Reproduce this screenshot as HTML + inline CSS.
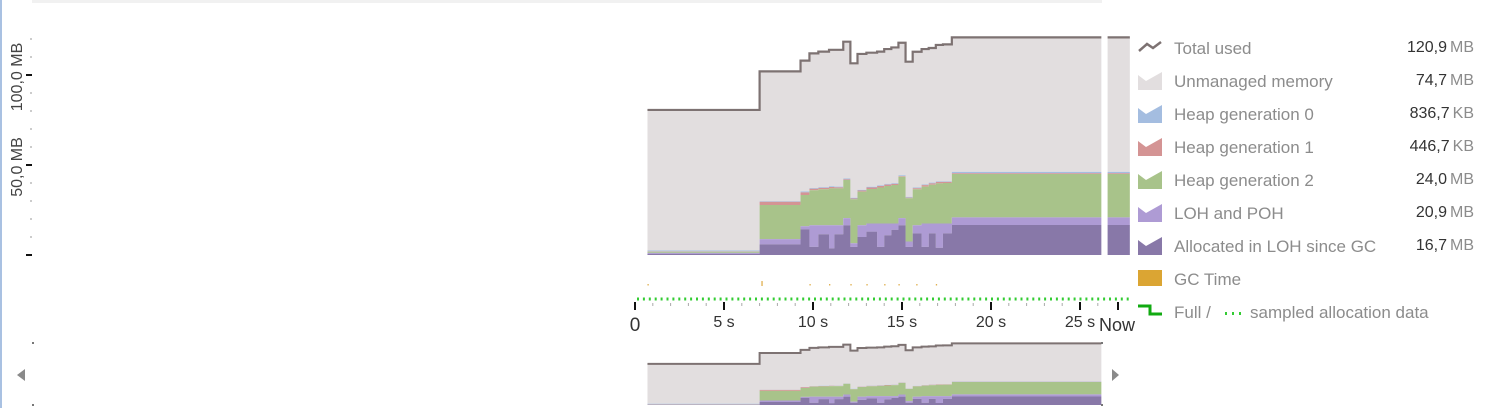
<!DOCTYPE html>
<html><head><meta charset="utf-8"><style>
body{margin:0;width:1495px;height:408px;overflow:hidden;background:#fff;font-family:"Liberation Sans",sans-serif;}
svg{position:absolute;left:0;top:0}
</style></head><body>
<svg id="chart" width="1495" height="408" xmlns="http://www.w3.org/2000/svg">
<rect x="0" y="0" width="2" height="408" fill="#a9c1e2"/>
<rect x="32" y="0" width="1070" height="3" fill="#f1f1f1"/>
<g id="yaxis"></g>
<g id="main"></g>
<g id="gc"></g>
<g id="xaxis"></g>
<g id="overview"></g>
<polygon points="17,375 25,369 25,381" fill="#8a8a8a"/>
<polygon points="1119,375 1112,369 1112,381" fill="#8a8a8a"/>
<rect x="32" y="342" width="2" height="2" fill="#777"/>
<rect x="32" y="404" width="2" height="2" fill="#777"/>
<rect x="1101" y="342" width="2" height="2" fill="#777"/>
<rect x="1101" y="404" width="2" height="2" fill="#777"/>
<g id="legend"></g>
</svg>
<script>
const times=[0.7,7.0,9.3,9.8,10.3,10.9,11.2,11.7,12.1,12.5,13.0,13.6,14.0,14.4,14.8,15.2,15.6,16.1,16.5,16.9,17.3,17.8];
const totalUsed=[80.6,102,108,112,113,114,114,118.5,106.5,111.7,112.4,113,114.4,115.3,117.9,107.4,112.9,114.4,115,116.7,117,120.9];
const lohSinceGcTop=[0.6,5.9,14.3,4.5,11.5,3.7,11.5,16.5,4.5,10,13,4.5,11,14,16.5,4.5,12,4.5,12,4,12,16.7];
const lohPohTop=[1.2,8.8,16,16.5,16.5,16.5,16.5,20.5,6.5,16.5,17.5,17.5,17.5,17.5,20.5,7.5,16.5,17.5,17.5,17.5,17.5,20.9];
const gen2Top=[1.8,27.8,33.3,36,36.5,37,37,41.7,31,35.2,36.7,37.5,38.3,38.9,43.5,31.5,36.5,38,39,39.8,40,45];
const gen1=[0.2,1.8,1.5,0.8,0.8,0.8,0.6,0.3,0.4,0.6,0.8,0.8,0.8,0.6,0.3,0.4,0.6,0.8,0.8,0.8,0.6,0.4];
const gen0=[0.5,0.3,0.5,0.4,0.4,0.4,0.4,0.5,0.4,0.4,0.4,0.4,0.4,0.4,0.5,0.4,0.4,0.4,0.4,0.4,0.4,0.8];
const gcTimes=[0.7,7.1,9.8,10.9,12.1,13.0,14.0,14.8,15.8,16.9];
const xTickLabels=["0","5 s","10 s","15 s","20 s","25 s"];
const legendNames=["Total used","Unmanaged memory","Heap generation 0","Heap generation 1","Heap generation 2","LOH and POH","Allocated in LOH since GC","GC Time","Full / "];
const legendValues=["120,9","74,7","836,7","446,7","24,0","20,9","16,7","",""];
const legendUnits=["MB","MB","KB","KB","MB","MB","MB","",""];

const NS="http://www.w3.org/2000/svg";
function el(tag,attrs,parent){const e=document.createElementNS(NS,tag);for(const k in attrs)e.setAttribute(k,attrs[k]);parent.appendChild(e);return e;}
const tEnd=27.8, gapA=26.2, gapB=26.55;
const xs=t=>635+t*17.8;
const yMain=v=>255-v*1.8;
const yOv=v=>405-v*0.51;

function stackPath(top,bot,ys,x0,x1){
  let up=[],dn=[];
  for(let i=0;i<times.length;i++){
    const a=Math.max(x0,xs(times[i])), b=i<times.length-1?xs(times[i+1]):x1;
    up.push(a+","+ys(top(i)),b+","+ys(top(i)));
    dn.unshift(b+","+ys(bot(i)),a+","+ys(bot(i)));
  }
  return "M"+up.join(" L")+" L"+dn.join(" L")+" Z";
}
function linePath(ys,x1){
  let p=[];
  for(let i=0;i<times.length;i++){
    const a=xs(times[i]), b=i<times.length-1?xs(times[i+1]):x1;
    p.push(a+","+ys(totalUsed[i]),b+","+ys(totalUsed[i]));
  }
  return "M"+p.join(" L");
}
const g1=i=>gen2Top[i]+gen1[i], g0=i=>gen2Top[i]+gen1[i]+gen0[i];
const layers=[
 ["unmanaged-area","#e2dedf",i=>totalUsed[i],g0],
 ["heap-gen0-area","#a4bde0",g0,g1],
 ["heap-gen1-area","#d49494",g1,i=>gen2Top[i]],
 ["heap-gen2-area","#a8c38a",i=>gen2Top[i],i=>lohPohTop[i]],
 ["loh-poh-area","#ae9bd4",i=>lohPohTop[i],i=>lohSinceGcTop[i]],
 ["loh-since-gc-area","#8878a8",i=>lohSinceGcTop[i],i=>0]
];
function drawPlot(g,ys,x1,gap){
  for(const L of layers){
    const p=el("path",{d:stackPath(L[2],L[3],ys,0,x1),fill:L[1]},g);
    
    
  }
  const ln=el("path",{d:linePath(ys,x1),fill:"none",stroke:"#7d7272","stroke-width":gap?2.2:2},g);
  
  
  if(gap){
    const r=el("rect",{x:xs(gapA),y:30,width:xs(gapB)-xs(gapA),height:230,fill:"#fff"},g);
    
    
  }
}
drawPlot(document.getElementById("main"),yMain,xs(tEnd),true);
drawPlot(document.getElementById("overview"),yOv,xs(gapA),false);

const ya=document.getElementById("yaxis");
for(let v=0;v<=120;v+=10){
  const major=v%50===0;
  const r=el("rect",{x:major?26:30,y:yMain(v)-(major?1:0.5),width:major?6:2,height:major?2:1,fill:major?"#111":"#999"},ya);
  
  
}
[[50,"50,0 MB"],[100,"100,0 MB"]].forEach(([v,s])=>{
  const t=el("text",{x:0,y:0,transform:`translate(22,${yMain(v)+2}) rotate(-90)`,"text-anchor":"middle","font-size":16,fill:"#444"},ya);
  t.textContent=s;
  
  
});

const gc=document.getElementById("gc");
gcTimes.forEach((t,i)=>{
  const r=el("rect",{x:xs(t),y:i===1?281:284,width:1.3,height:i===1?5:1.5,fill:"#e0b050"},gc);
  
  
});
for(let x=637;x<1128;x+=5.9){
  const d=el("rect",{x:x,y:297.5,width:2,height:3,fill:"#33cc33"},gc);
  
  
}

const xa=document.getElementById("xaxis");
for(let s=0;s<=26;s++){
  const major=s%5===0;
  const r=el("rect",{x:xs(s)-(major?1:0.5),y:major?302:303,width:major?2:1,height:major?8:3,fill:major?"#111":"#aaa"},xa);
  
  
}
xTickLabels.forEach((s,i)=>{
  const t=el("text",{x:xs(i*5),y:i===0?331:327,"text-anchor":"middle","font-size":i===0?19:16,fill:"#333"},xa);
  t.textContent=s;
  
  
});
const nowTick=el("rect",{x:1117,y:302,width:2,height:8,fill:"#111"},xa);


const now=el("text",{x:1117,y:331,"text-anchor":"middle","font-size":18,fill:"#333"},xa);
now.textContent="Now";



const lg=document.getElementById("legend");
const icoColors=["#7d7272","#e2dedf","#a4bde0","#d49494","#a8c38a","#ae9bd4","#8878a8","#dba533","#11aa11"];
legendNames.forEach((n,i)=>{
  const cy=48+i*33;
  const g=el("g",{},lg);
  
  
  if(i===0){el("path",{d:`M1139,${cy+3} L1147,${cy-4} L1153,${cy} L1161,${cy-6}`,fill:"none",stroke:icoColors[0],"stroke-width":2.5},g);}
  else if(i<7){el("path",{d:`M1138,${cy+9} L1138,${cy-6} L1146,${cy} L1162,${cy-9} L1162,${cy+9} Z`,fill:icoColors[i]},g);}
  else if(i===7){el("rect",{x:1138,y:cy-9,width:24,height:16,fill:icoColors[7]},g);}
  else {el("path",{d:`M1138,${cy-6} L1150,${cy-6} L1150,${cy+2} L1162,${cy+2}`,fill:"none",stroke:icoColors[8],"stroke-width":3},g);}
  const t=el("text",{x:1174,y:cy+6,"font-size":17,fill:"#8c8c8c"},g);
  t.textContent=n;
  if(i===8){
    for(let k=0;k<3;k++) el("rect",{x:1225+k*7,y:cy,width:2,height:3,fill:"#33cc33"},g);
    const t2=el("text",{x:1250,y:cy+6,"font-size":17,fill:"#8c8c8c"},g);
    t2.textContent="sampled allocation data";
  }
  if(legendValues[i]){
    const v=el("text",{x:1474,y:cy+4,"text-anchor":"end","font-size":16},g);
    const a=el("tspan",{fill:"#333"},v);a.textContent=legendValues[i];
    const b=el("tspan",{fill:"#8c8c8c",dx:3},v);b.textContent=legendUnits[i];
  }
});
</script>
</body></html>
